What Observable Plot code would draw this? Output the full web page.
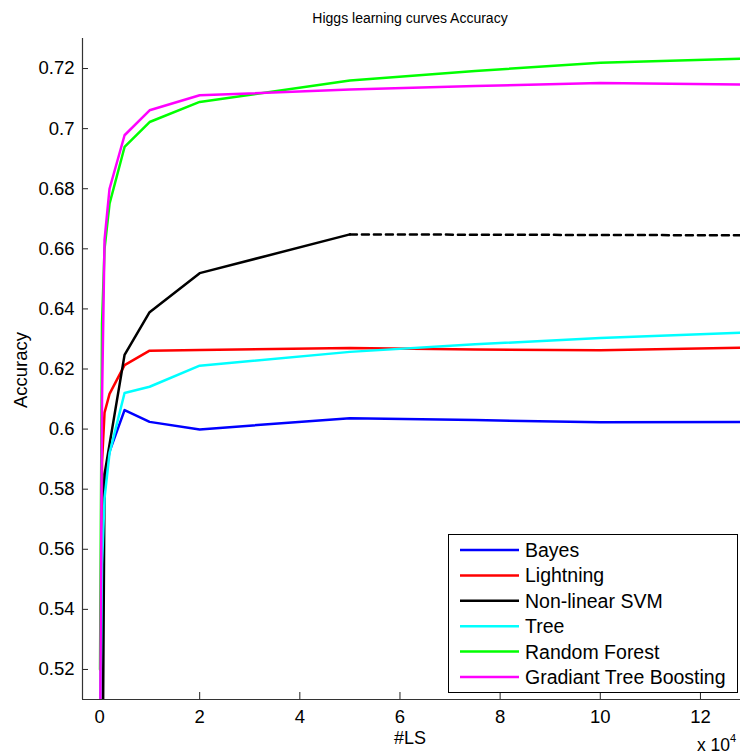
<!DOCTYPE html>
<html><head><meta charset="utf-8">
<script src="https://cdn.jsdelivr.net/npm/d3@7"></script>
<script src="https://cdn.jsdelivr.net/npm/@observablehq/plot@0.6"></script>
<style>body{margin:0;background:#fff} svg{display:block}</style>
</head><body><div id="chart"></div>
<script>
// ---- data ----
const title = "Higgs learning curves Accuracy";
const xLabel = "#LS";
const yLabel = "Accuracy";
const xDomain = [-3400, 128000];
const yDomain = [0.51, 0.73];
const xTicks = [0, 20000, 40000, 60000, 80000, 100000, 120000];
const yTicks = [0.52, 0.54, 0.56, 0.58, 0.60, 0.62, 0.64, 0.66, 0.68, 0.70, 0.72];

const xs = [100, 500, 1000, 2000, 5000, 10000, 20000, 50000, 75000, 100000, 128000];
const names  = ["Bayes", "Lightning", "Non-linear SVM", "Tree", "Random Forest", "Gradiant Tree Boosting"];
const colors = ["#0000ff", "#ff0000", "#000000", "#00ffff", "#00ff00", "#ff00ff"];
const bayes     = [0.47, 0.55, 0.583, 0.5925, 0.6063, 0.6024, 0.5999, 0.6036, 0.6030, 0.6023, 0.6024];
const lightning = [0.48, 0.589, 0.6055, 0.6117, 0.6213, 0.6261, 0.6263, 0.6270, 0.6265, 0.6262, 0.6271];
const svm       = [0.40, 0.45, 0.585, null, 0.6247, 0.6389, 0.6519, 0.6648, null, null, null];
const tree      = [0.50, 0.555, 0.577, 0.592, 0.6120, 0.6141, 0.6211, 0.6257, 0.6282, 0.6303, 0.6321];
const forest    = [0.52, 0.635, 0.660, 0.675, 0.6939, 0.7022, 0.7089, 0.7160, 0.7192, 0.7219, 0.7233];
const boosting  = [0.49, 0.610, 0.663, 0.680, 0.6978, 0.7061, 0.7111, 0.7130, 0.7142, 0.7152, 0.7147];
// SVM extrapolation drawn dashed
const svmDashX = [50000, 128000];
const svmDashY = [0.6648, 0.6645];

const allValues = [bayes, lightning, svm, tree, forest, boosting];
const rows = names.flatMap((name, s) =>
  xs.map((x, i) => ({name, x, y: allValues[s][i]})).filter(d => d.y != null));
const dashRows = svmDashX.map((x, i) => ({x, y: svmDashY[i]}));

const font = "'Liberation Sans', Arial, Helvetica, sans-serif";
const W = 740, H = 754;
const mL = 82, mT = 38, mR = 0, mB = 55;

const chart = Plot.plot({
  width: W, height: H,
  marginTop: mT, marginLeft: mL, marginRight: mR, marginBottom: mB,
  style: {fontFamily: font, fontSize: "18.5px", background: "#fff", color: "#000", overflow: "visible"},
  x: {domain: xDomain, label: null},
  y: {domain: yDomain, label: null},
  color: {domain: names, range: colors},
  marks: [
    Plot.axisX({ticks: xTicks, tickFormat: d => String(d / 1e4), tickSize: -7, tickPadding: 17, label: null, stroke: "#222"}),
    Plot.axisY({ticks: yTicks, tickFormat: d => String(+d.toFixed(2)), tickSize: -6, tickPadding: 14, label: null, stroke: "#222"}),
    Plot.ruleX([xDomain[0]], {stroke: "#333", strokeWidth: 1.2}),
    Plot.ruleY([yDomain[0]], {stroke: "#333", strokeWidth: 1.2}),
    Plot.line(dashRows, {x: "x", y: "y", stroke: "#000", strokeWidth: 2.5, strokeDasharray: "7,5", clip: true}),
    Plot.line(rows, {x: "x", y: "y", z: "name", stroke: "name", strokeWidth: 2.5, clip: true})
  ]
});
document.getElementById("chart").appendChild(chart);

// ---- titles, labels, legend added to the same SVG ----
const svg = d3.select(chart);
svg.append("text").attr("x", 410).attr("y", 23).attr("text-anchor", "middle")
  .attr("font-family", font).attr("font-size", 14).text(title);
svg.append("text").attr("transform", "translate(27,370) rotate(-90)").attr("text-anchor", "middle")
  .attr("font-family", font).attr("font-size", 18.5).text(yLabel);
svg.append("text").attr("x", 410).attr("y", 744).attr("text-anchor", "middle")
  .attr("font-family", font).attr("font-size", 18).text(xLabel);
const sci = svg.append("text").attr("x", 697).attr("y", 751).attr("text-anchor", "start")
  .attr("font-family", font).attr("font-size", 17.5);
sci.append("tspan").text("x 10");
sci.append("tspan").attr("font-size", 11).attr("dy", -9).text("4");

const lg = svg.append("g");
lg.append("rect").attr("x", 448.5).attr("y", 534.5).attr("width", 289).attr("height", 158)
  .attr("fill", "#fff").attr("stroke", "#000").attr("stroke-width", 1);
names.forEach((n, i) => {
  const cy = 550 + i * 25.4;
  lg.append("line").attr("x1", 460).attr("x2", 519).attr("y1", cy).attr("y2", cy)
    .attr("stroke", colors[i]).attr("stroke-width", 2.5);
  lg.append("text").attr("x", 525).attr("y", cy).attr("dy", "0.36em").attr("text-anchor", "start")
    .attr("font-family", font).attr("font-size", 19.5).text(n);
});
</script>
</body></html>
